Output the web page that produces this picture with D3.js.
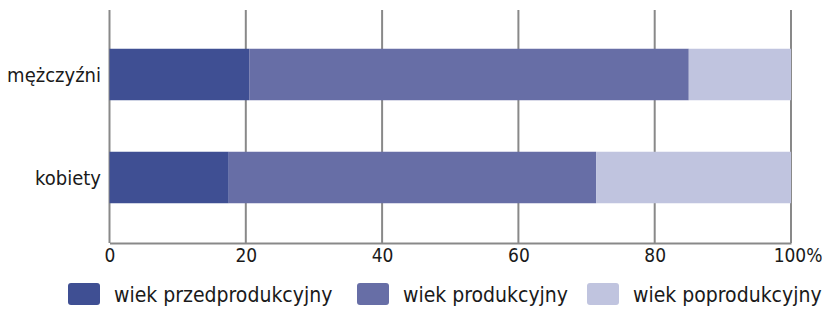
<!DOCTYPE html>
<html lang="pl">
<head>
<meta charset="UTF-8">
<title>Struktura wieku</title>
<script src="https://cdn.jsdelivr.net/npm/d3@7"></script>
<style>
  body { margin: 0; background: #fff; }
  text { font-family: "DejaVu Sans Condensed", "DejaVu Sans", sans-serif; fill: #1a1a1a; }
</style>
</head>
<body>
<svg width="824" height="309"></svg>
<script>
  // dane (%)
  const categories = ["mężczyźni", "kobiety"];
  const seriesNames = ["wiek przedprodukcyjny", "wiek produkcyjny", "wiek poprodukcyjny"];
  const przed = [20.5, 17.5];
  const prod = [64.5, 53.9];
  const popr = [15.0, 28.6];
  const tickValues = [0, 20, 40, 60, 80, 100];
  const colors = ["#3f4f93", "#676ea6", "#c0c4df"];

  const svg = d3.select("svg");

  const x = d3.scaleLinear().domain([0, 100]).range([109.5, 791]);
  const y = d3.scaleBand().domain(categories).range([23, 229]).paddingInner(0.5).paddingOuter(0.25);

  // siatka
  svg.append("g")
    .selectAll("line")
    .data(tickValues)
    .join("line")
    .attr("x1", d => x(d)).attr("x2", d => x(d))
    .attr("y1", 10).attr("y2", 243)
    .attr("stroke", "#898989")
    .attr("stroke-width", 2);

  // słupki skumulowane
  const table = categories.map((c, i) => ({ cat: c, a: przed[i], b: prod[i], c: popr[i] }));
  const stacked = d3.stack().keys(["a", "b", "c"])(table);

  svg.append("g")
    .selectAll("g")
    .data(stacked)
    .join("g")
    .attr("fill", (d, i) => colors[i])
    .selectAll("rect")
    .data(d => d)
    .join("rect")
    .attr("x", d => x(d[0]))
    .attr("width", d => x(d[1]) - x(d[0]))
    .attr("y", d => y(d.data.cat))
    .attr("height", y.bandwidth());

  // oś X
  const xAxis = svg.append("g")
    .attr("transform", "translate(0,243)")
    .call(d3.axisBottom(x).tickValues(tickValues).tickSize(0).tickPadding(5)
      .tickFormat(d => d === 100 ? "100%" : d));
  xAxis.select(".domain").attr("stroke", "#898989").attr("stroke-width", 2);
  xAxis.selectAll("text")
    .style("font-size", "19px")
    .attr("dy", "0.72em");
  // ostatnia etykieta wyrównana do prawej krawędzi
  xAxis.selectAll(".tick").filter(d => d === 100).select("text")
    .attr("text-anchor", "end")
    .attr("x", 31);

  // etykiety kategorii
  svg.append("g")
    .selectAll("text")
    .data(categories)
    .join("text")
    .attr("x", 101)
    .attr("y", d => y(d) + y.bandwidth() / 2)
    .attr("dy", "0.35em")
    .attr("text-anchor", "end")
    .style("font-size", "20px")
    .text(d => d);

  // legenda
  const legendX = [68, 357, 587];
  const legend = svg.append("g")
    .selectAll("g")
    .data(seriesNames)
    .join("g")
    .attr("transform", (d, i) => `translate(${legendX[i]},283)`);
  legend.append("rect")
    .attr("width", 32).attr("height", 22)
    .attr("rx", 3)
    .attr("fill", (d, i) => colors[i]);
  legend.append("text")
    .attr("x", 46).attr("y", 12)
    .attr("dy", "0.35em")
    .style("font-size", "21px")
    .text(d => d);
</script>
</body>
</html>
